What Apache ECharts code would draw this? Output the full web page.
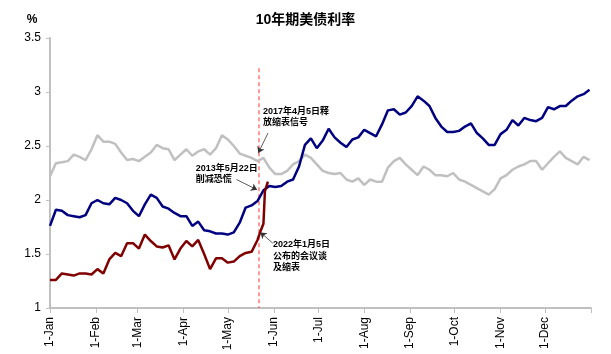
<!DOCTYPE html>
<html>
<head>
<meta charset="utf-8">
<script src="https://cdn.jsdelivr.net/npm/echarts@6/dist/echarts.min.js"></script>
<style>
  html, body { margin: 0; padding: 0; background: #fff; }
  #chart { width: 611px; height: 354px; }
</style>
</head>
<body>
<div id="chart"></div>
<script>
// x轴: 一年中的第几天, 每月1日刻度
var monthDays = [0, 31, 59, 90, 120, 151, 181, 212, 243, 273, 304, 334, 365];
var monthLabels = ['1-Jan', '1-Feb', '1-Mar', '1-Apr', '1-May', '1-Jun', '1-Jul', '1-Aug', '1-Sep', '1-Oct', '1-Nov', '1-Dec', ''];

// 取样日期 (年内第几天)
var sampleDays = [0, 4, 8, 12, 16, 20, 24, 28, 32, 36, 40, 44, 48, 52, 56, 60, 64, 68, 72, 76,
  80, 84, 88, 92, 96, 100, 104, 108, 112, 116, 120, 124, 128, 132, 136, 140, 144, 148, 152, 156,
  160, 164, 168, 172, 176, 180, 184, 188, 192, 196, 200, 204, 208, 212, 216, 220, 224, 228, 232, 236,
  240, 244, 248, 252, 256, 260, 264, 268, 272, 276, 280, 284, 288, 292, 296, 300, 304, 308, 312, 316,
  320, 324, 328, 332, 336, 340, 344, 348, 352, 356, 360, 364];

// 2017年 (深蓝)
var navyVals = [1.76, 1.91, 1.90, 1.86, 1.85, 1.84, 1.86, 1.97, 2.00, 1.97, 1.96, 2.02, 2.00, 1.97, 1.90, 1.85, 1.96, 2.05, 2.02, 1.94,
  1.92, 1.88, 1.85, 1.85, 1.76, 1.80, 1.72, 1.71, 1.69, 1.69, 1.68, 1.70, 1.79, 1.93, 1.95, 1.99, 2.09, 2.13, 2.12, 2.13,
  2.17, 2.19, 2.31, 2.51, 2.57, 2.48, 2.55, 2.66, 2.58, 2.53, 2.49, 2.56, 2.58, 2.65, 2.62, 2.59, 2.70, 2.83, 2.84, 2.79,
  2.81, 2.87, 2.96, 2.92, 2.87, 2.76, 2.68, 2.63, 2.63, 2.64, 2.68, 2.71, 2.62, 2.57, 2.51, 2.51, 2.61, 2.65, 2.74, 2.69,
  2.76, 2.74, 2.73, 2.76, 2.86, 2.84, 2.87, 2.87, 2.92, 2.96, 2.98, 3.02];

// 2013年 (灰)
var grayVals = [2.22, 2.34, 2.35, 2.36, 2.42, 2.40, 2.37, 2.47, 2.60, 2.54, 2.54, 2.52, 2.44, 2.37, 2.38, 2.36, 2.40, 2.44, 2.51, 2.48,
  2.47, 2.37, 2.42, 2.47, 2.41, 2.45, 2.47, 2.42, 2.48, 2.60, 2.56, 2.50, 2.43, 2.41, 2.39, 2.36, 2.39, 2.30, 2.24, 2.24,
  2.27, 2.33, 2.36, 2.42, 2.39, 2.33, 2.27, 2.25, 2.24, 2.25, 2.19, 2.17, 2.20, 2.14, 2.19, 2.17, 2.17, 2.30, 2.36, 2.39,
  2.33, 2.28, 2.23, 2.31, 2.28, 2.23, 2.23, 2.22, 2.25, 2.19, 2.17, 2.14, 2.11, 2.08, 2.05, 2.10, 2.20, 2.23, 2.28, 2.31,
  2.33, 2.36, 2.36, 2.28, 2.34, 2.40, 2.45, 2.39, 2.36, 2.33, 2.40, 2.37];

// 2022年 (深红)
var redDays = [0, 4, 8, 12, 16, 20, 24, 28, 32, 36, 40, 44, 48, 52, 56, 60, 64, 68, 72, 76,
  80, 84, 88, 92, 96, 100, 104, 108, 112, 116, 120, 124, 128, 132, 136, 140, 142, 144, 145, 147];
var redVals = [1.26, 1.26, 1.32, 1.31, 1.30, 1.32, 1.32, 1.31, 1.36, 1.32, 1.45, 1.51, 1.48, 1.60, 1.60, 1.55, 1.68, 1.62, 1.57, 1.56,
  1.58, 1.45, 1.55, 1.62, 1.57, 1.63, 1.50, 1.36, 1.46, 1.46, 1.42, 1.43, 1.48, 1.51, 1.52, 1.63, 1.71, 1.78, 2.08, 2.17];

// 2013年5月22日 竖线 (上端/下端)
var eventDay = 141;
var eventRange = [3.22, 1];

// 注释: 文字左上角, 箭头起点, 箭头终点 (数据坐标)
var notes = [
  { text: '2017年4月5日释\n放缩表信号', at: [143.7, 2.875], from: [147.1, 2.62], to: [140.5, 2.435] },
  { text: '2013年5月22日\n削减恐慌', at: [98.3, 2.345], from: [125.8, 2.19], to: [139.7, 2.095] },
  { text: '2022年1月5日\n公布的会议谈\n及缩表', at: [150.5, 1.64], from: [150.3, 1.60], to: [142, 1.70] }
];

var FONT = '"Liberation Sans", Arial, "Noto Sans CJK SC", sans-serif';
var AXIS_COLOR = '#c0c0c0';

function zip(xs, ys) {
  return xs.map(function (x, i) { return [x, ys[i]]; });
}

var chart = echarts.init(document.getElementById('chart'));

var arrowStyle = { color: '#333333', type: 'solid', width: 0.8 };

var option = {
  animation: false,
  backgroundColor: '#fff',
  title: {
    text: '10年期美债利率',
    left: 'center',
    top: 8,
    textStyle: { fontFamily: FONT, fontSize: 14, fontWeight: 'bold', color: '#000' }
  },
  grid: { left: 50, right: 20, top: 38, bottom: 46, outerBoundsMode: 'none' },
  xAxis: {
    type: 'value',
    min: 0,
    max: 365,
    splitLine: { show: false },
    axisLine: { show: true, lineStyle: { color: AXIS_COLOR, width: 2 } },
    axisTick: { show: true, length: 5, customValues: monthDays, lineStyle: { color: AXIS_COLOR, width: 1 } },
    axisLabel: {
      customValues: monthDays,
      rotate: 90,
      margin: 9,
      fontFamily: FONT,
      fontSize: 12,
      color: '#000',
      formatter: function (v) {
        var i = monthDays.indexOf(v);
        return i >= 0 ? monthLabels[i] : '';
      }
    }
  },
  yAxis: {
    type: 'value',
    min: 1,
    max: 3.5,
    interval: 0.5,
    splitLine: { show: false },
    axisLine: { show: true, lineStyle: { color: AXIS_COLOR, width: 2 } },
    axisTick: { show: true, length: 4, lineStyle: { color: AXIS_COLOR, width: 1 } },
    axisLabel: { fontFamily: FONT, fontSize: 12, color: '#000', margin: 9 }
  },
  series: [
    {
      name: '2013', type: 'line', showSymbol: false, data: zip(sampleDays, grayVals),
      lineStyle: { color: '#c0c0c0', width: 2.5 }, itemStyle: { color: '#c0c0c0' }
    },
    {
      name: 'event', type: 'line', showSymbol: false, silent: true, z: 1,
      data: eventRange.map(function (v) { return [eventDay, v]; }),
      lineStyle: { color: '#ff3333', type: [4, 3], width: 1 }, itemStyle: { color: '#ff3333' }
    },
    {
      name: '2017', type: 'line', showSymbol: false, data: zip(sampleDays, navyVals),
      lineStyle: { color: '#000080', width: 2.5 }, itemStyle: { color: '#000080' },
      markLine: {
        silent: true, symbol: ['none', 'arrow'], symbolSize: 6, label: { show: false },
        lineStyle: arrowStyle, itemStyle: { color: '#333333' },
        data: notes.map(function (n) {
          return [{ coord: n.from, lineStyle: arrowStyle }, { coord: n.to, lineStyle: arrowStyle }];
        })
      }
    },
    {
      name: '2022', type: 'line', showSymbol: false, data: zip(redDays, redVals),
      lineStyle: { color: '#800000', width: 2.5 }, itemStyle: { color: '#800000' }
    }
  ]
};

chart.setOption(option);

// 注释文字 & 单位
var graphics = notes.map(function (n) {
  var p = chart.convertToPixel({ gridIndex: 0 }, n.at);
  return {
    type: 'text', x: p[0], y: p[1], z: 100,
    style: { text: n.text, font: 'bold 9px ' + FONT, fill: '#000', lineHeight: 11.5, textVerticalAlign: 'top' }
  };
});
graphics.push({
  type: 'text', x: 32, y: 20, z: 100,
  style: { text: '%', font: 'bold 12px ' + FONT, fill: '#000', textAlign: 'center', textVerticalAlign: 'middle' }
});
chart.setOption({ graphic: graphics });
</script>
</body>
</html>
